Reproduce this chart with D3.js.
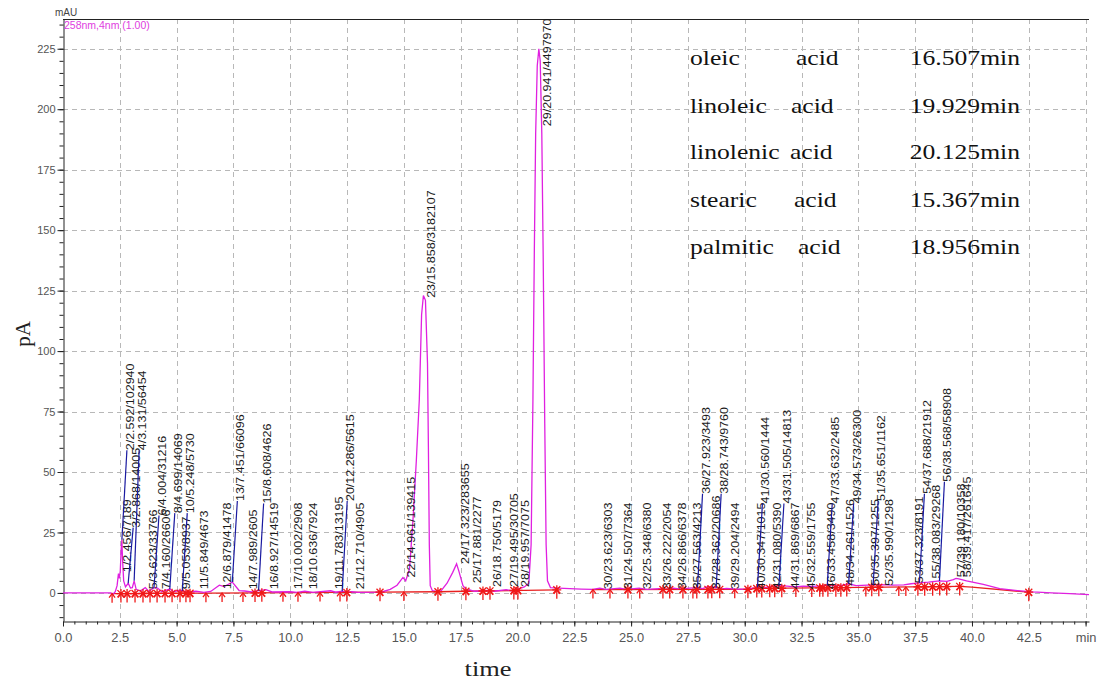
<!DOCTYPE html>
<html><head><meta charset="utf-8">
<script src="https://cdn.jsdelivr.net/npm/d3@7"></script>
<style>body{margin:0;background:#fff}svg{display:block}</style>
</head><body><svg id="c" width="1097" height="684"></svg>
<script>
// ---------------- DATA ----------------
const trace = [[0,0],[2.1,0],[2.2,-0.5],[2.3,0.5],[2.38,3],[2.44,8],[2.48,6],[2.52,9],[2.56,18],[2.59,22],[2.62,14],[2.67,5],[2.75,2.5],[2.87,4],[2.97,2],[3.05,2.2],[3.13,5],[3.22,1.5],[3.4,0.8],[3.62,2.2],[3.78,0.6],[4.0,2.2],[4.16,2.0],[4.35,0.5],[4.7,1.6],[4.88,0.5],[5.05,1.0],[5.25,0.9],[5.45,0.3],[5.85,0.7],[6.2,0.2],[6.5,0.6],[6.88,3.2],[7.1,2.6],[7.45,4.5],[7.75,1.0],[7.99,0.8],[8.3,0.4],[8.61,1.0],[8.93,1.4],[9.2,0.4],[10.0,0.5],[10.3,0.2],[10.64,0.7],[11.0,0.2],[11.78,0.9],[12.0,0.3],[12.29,0.7],[12.5,0.3],[12.71,0.5],[13.0,0.2],[13.8,0.3],[14.1,0.6],[14.4,1.5],[14.7,3.2],[14.96,6.4],[15.08,5.0],[15.25,10],[15.4,30],[15.55,55],[15.68,80],[15.78,115],[15.86,123],[15.95,121],[16.04,95],[16.08,60],[16.12,20],[16.16,3],[16.25,1.0],[16.45,0.6],[16.65,1.0],[16.9,4],[17.15,8.5],[17.32,12],[17.42,9],[17.6,3],[17.8,0.8],[17.88,1.3],[18.1,0.7],[18.75,1.1],[19.0,0.7],[19.5,1.4],[19.75,0.9],[19.96,1.4],[20.3,2.5],[20.5,4],[20.6,20],[20.68,80],[20.74,140],[20.8,190],[20.87,218],[20.94,225],[21.0,220],[21.07,190],[21.13,140],[21.2,70],[21.26,20],[21.32,5],[21.45,2.2],[21.8,2.0],[22.3,1.8],[22.8,1.6],[23.3,1.5],[23.62,2.0],[23.9,1.5],[24.51,2.0],[24.8,1.5],[25.35,2.0],[25.7,1.5],[26.22,1.8],[26.5,1.5],[26.87,2.0],[27.2,1.6],[27.56,2.0],[27.92,2.2],[28.15,1.8],[28.36,2.6],[28.74,2.2],[29.0,1.7],[29.2,1.9],[29.6,1.6],[30.1,1.6],[30.35,2.0],[30.56,2.3],[30.8,2.0],[31.08,2.6],[31.5,3.0],[31.87,2.8],[32.2,2.5],[32.56,2.8],[33.0,2.7],[33.46,3.0],[33.63,3.2],[34.0,2.9],[34.26,3.1],[34.57,3.8],[34.9,3.0],[35.4,3.2],[35.65,3.3],[35.99,3.4],[36.5,3.2],[37.0,3.3],[37.32,3.8],[37.69,4.2],[38.08,4.5],[38.57,5.0],[38.9,4.8],[39.18,5.5],[39.3,6.0],[39.42,5.8],[39.76,5.0],[40.5,3.5],[41.22,1.8],[42.0,1.0],[42.67,0.4],[43.5,0.0],[44.3,-0.3],[45.15,-0.7]];

const peakIds = d3.range(1, 59);
const peakTimes = ["2.456","2.592","2.868","3.131","3.623","4.004","4.160","4.699","5.053","5.248","5.849","6.879","7.451","7.989","8.608","8.927","10.002","10.636","11.783","12.286","12.710","14.961","15.858","17.323","17.881","18.750","19.495","19.957","20.941","23.623","24.507","25.348","26.222","26.866","27.563","27.923","28.362","28.743","29.204","30.347","30.560","31.080","31.505","31.869","32.559","33.458","33.632","34.261","34.573","35.397","35.651","35.990","37.323","37.688","38.083","38.568","39.180","39.417"];
const peakAreas = ["7189","102940","14005","56454","33766","31216","26606","14069","8937","5730","4673","41478","66096","2605","4626","14519","2908","7924","13195","5615","4905","139415","3182107","283655","2277","5179","30705","7075","4497970","6303","7364","6380","2054","6378","4213","3493","20686","9760","2494","1015","1444","5390","14813","6867","1755","3490","2485","1526","26300","1255","1162","1298","8191","21912","29268","58908","10358","261645"];
// level (pA) where each peak label starts
const labelLevels = [8.6,59,27,59,1.5,32,1.5,33,1.5,33,1.5,1.5,38,1.5,37,1.5,1.5,1.5,1.5,38,1.5,6.4,122,12,4,2.5,2.5,2.5,193,1.5,1.5,1.5,1.5,1.5,1.5,41,1.5,41,1.5,1.5,37,1.5,37,1.5,1.5,1.5,37,3,37,3,38,3,4,41,6,46,6.5,6.5];

// integration baselines [t0, v0, t1, v1]
const baseSegs = [[2.15,-0.3,13.95,0.3],[13.95,0.3,16.5,0.5],[16.5,0.5,17.75,0.7],[17.75,0.7,21.73,1.3],[23.32,1.4,30.14,1.5],[30.14,1.8,39.46,2.7],[39.46,2.7,40.0,2.4],[40.0,2.4,42.5,0.3]];
// peak start / end marks (min) and their kind (s = shared boundary star, a = arrow)
const marks = [2.16,2.55,2.82,3.17,3.52,3.83,4.14,4.49,4.80,5.15,5.41,5.59,6.29,7.00,7.92,8.45,8.75,9.68,10.34,11.31,12.19,12.49,13.95,15.00,16.50,17.73,18.48,18.79,19.84,20.02,21.73,23.32,24.07,24.86,25.38,26.40,26.70,27.28,27.72,27.89,28.38,28.55,28.90,29.56,30.14,30.53,30.75,31.10,31.32,31.63,32.25,32.95,33.30,33.44,33.66,34.01,34.23,34.49,35.33,35.59,35.90,36.78,37.09,37.62,37.92,38.27,38.58,38.89,39.46,42.50];
const markKinds = "asssssssssssaaassaaaassasssssssaasasssassssassssssaassssssassaasssssss".split("");

const xTickValues = d3.range(0, 45.01, 2.5);
const xTickLabels = ["0.0","2.5","5.0","7.5","10.0","12.5","15.0","17.5","20.0","22.5","25.0","27.5","30.0","32.5","35.0","37.5","40.0","42.5","min"];
const yTickValues = [0,25,50,75,100,125,150,175,200,225];
const yTickLabels = ["0","25","50","75","100","125","150","175","200","225"];

const legendNames = ["oleic","linoleic","linolenic","stearic","palmitic"];
const legendWord = "acid";
const legendTimes = ["16.507min","19.929min","20.125min","15.367min","18.956min"];

// ---------------- LAYOUT ----------------
const L = 63, R = 1089, T = 19, B = 621;
const svg = d3.select("#c");
const x = d3.scaleLinear().domain([0, 45.15]).range([L, R]);
const y = d3.scaleLinear().domain([-11.6, 237.3]).range([B, T]);

// grid
const grid = svg.append("g").attr("stroke", "#b8b8b8").attr("stroke-dasharray", "5,4").attr("stroke-width", 1);
xTickValues.filter(d => d > 0).forEach(d => grid.append("line").attr("x1", Math.round(x(d)) + .5).attr("x2", Math.round(x(d)) + .5).attr("y1", T).attr("y2", B));
yTickValues.forEach(d => grid.append("line").attr("x1", L).attr("x2", R).attr("y1", Math.round(y(d)) + .5).attr("y2", Math.round(y(d)) + .5));

// top frame
svg.append("line").attr("x1", L).attr("x2", R).attr("y1", T + .5).attr("y2", T + .5).attr("stroke", "#222");

// axes
const yAxis = d3.axisLeft(y).tickValues(yTickValues).tickSize(6).tickSizeOuter(0).tickPadding(2)
  .tickFormat((d, i) => yTickLabels[i]);
const gy = svg.append("g").attr("transform", `translate(${L + .5},0)`).call(yAxis);
const gyMinor = svg.append("g").attr("transform", `translate(${L + .5},0)`)
  .call(d3.axisLeft(y).tickValues(d3.range(-10, 236, 5)).tickSize(4).tickFormat(""));
gyMinor.select(".domain").remove();
const xAxis = d3.axisBottom(x).tickValues(xTickValues).tickSize(5).tickSizeOuter(0).tickPadding(6)
  .tickFormat((d, i) => xTickLabels[i]);
const gx = svg.append("g").attr("transform", `translate(0,${B + .5})`).call(xAxis);
const gxMinor = svg.append("g").attr("transform", `translate(0,${B + .5})`)
  .call(d3.axisBottom(x).tickValues(d3.range(0, 45.1, 0.5)).tickSize(3).tickFormat(""));
gxMinor.select(".domain").remove();
[gy, gx, gyMinor, gxMinor].forEach(g => {
  g.selectAll(".domain, line").attr("stroke", "#222");
  g.selectAll("text").attr("fill", "#555").style("font-family", "Arial, 'Liberation Sans', sans-serif").style("font-size", "11px");
});
gx.selectAll(".tick text").style("font-size", "11.5px").attr("transform", "scale(1.12,1.05)");

// header texts
svg.append("text").attr("x", 55).attr("y", 16).text("mAU")
  .style("font-family", "Arial, 'Liberation Sans', sans-serif").style("font-size", "10px").attr("fill", "#444");
svg.append("text").attr("x", 64).attr("y", 29).text("258nm,4nm (1.00)")
  .style("font-family", "Arial, 'Liberation Sans', sans-serif").style("font-size", "10.5px").attr("fill", "#e040e0");

// axis titles
svg.append("text").attr("transform", "translate(30,334) rotate(-90)").attr("text-anchor", "middle")
  .style("font-family", "'Liberation Serif', 'Times New Roman', serif").style("font-size", "21px").attr("fill", "#222").text("pA");
svg.append("text").attr("transform", "translate(488,676) scale(1.2,1)").attr("text-anchor", "middle")
  .style("font-family", "'Liberation Serif', 'Times New Roman', serif").style("font-size", "22px").attr("fill", "#222").text("time");

// integration baselines
const gb = svg.append("g").attr("stroke", "#e82020").attr("stroke-width", 1.3);
baseSegs.forEach(s => gb.append("line").attr("x1", x(s[0])).attr("y1", y(s[1])).attr("x2", x(s[2])).attr("y2", y(s[3])));

// trace
const line = d3.line().x(d => x(d[0])).y(d => y(d[1]));
svg.append("path").datum(trace).attr("d", line).attr("fill", "none").attr("stroke", "#e020e0").attr("stroke-width", 1.3);

function baseAt(t) {
  for (const s of baseSegs) if (t >= s[0] - 0.01 && t <= s[2] + 0.01) return s[1] + (s[3] - s[1]) * (t - s[0]) / (s[2] - s[0]);
  return 0.5;
}
function traceAt(t) {
  let best = trace[0];
  for (const p of trace) if (Math.abs(p[0] - t) < Math.abs(best[0] - t)) best = p;
  return best[1];
}

// marks
const gm = svg.append("g").attr("stroke", "#f01818").attr("stroke-width", 1.3).attr("fill", "none");
marks.forEach((t, i) => {
  const mx = x(t), my = y(baseAt(t));
  // arrow pointing up to the baseline
  gm.append("line").attr("x1", mx).attr("x2", mx).attr("y1", my + 9).attr("y2", my);
  gm.append("path").attr("d", `M${mx - 3},${my + 4}L${mx},${my}L${mx + 3},${my + 4}`);
  if (markKinds[i] === "s") {
    gm.append("path").attr("d", `M${mx - 4.5},${my}H${mx + 4.5}M${mx - 3.5},${my - 3.5}L${mx + 3.5},${my + 3.5}M${mx - 3.5},${my + 3.5}L${mx + 3.5},${my - 3.5}M${mx},${my - 4.5}V${my}`);
  }
});

// peak labels with leaders
const gl = svg.append("g");
peakIds.forEach((id, i) => {
  const t = +peakTimes[i];
  const px = x(t);
  const pv = traceAt(t);
  const lv = labelLevels[i];
  const ly = y(lv);
  if (lv > pv + 4) {
    gl.append("line").attr("x1", px).attr("y1", y(pv)).attr("x2", px + 5).attr("y2", ly)
      .attr("stroke", "#1a1aa0").attr("stroke-width", 1.2);
  }
  gl.append("text").attr("transform", `translate(${px + 12},${ly}) rotate(-90) scale(1.25,1)`)
    .style("font-family", "Arial, 'Liberation Sans', sans-serif").style("font-size", "10px").attr("fill", "#1a1a1a")
    .text(`${id}/${peakTimes[i]}/${peakAreas[i]}`);
});

// legend table
const rowsY = [65, 113, 159, 207, 254];
const acidX = [796, 791, 790, 794, 798];
const gt = svg.append("g").style("font-family", "'Liberation Serif', 'Times New Roman', serif").style("font-size", "21px").attr("fill", "#111");
legendNames.forEach((n, i) => {
  gt.append("text").attr("transform", `translate(690,${rowsY[i]}) scale(1.22,1)`).text(n);
  gt.append("text").attr("transform", `translate(${acidX[i]},${rowsY[i]}) scale(1.22,1)`).text(legendWord);
  gt.append("text").attr("transform", `translate(1020,${rowsY[i]}) scale(1.22,1)`).attr("text-anchor", "end").text(legendTimes[i]);
});
</script></body></html>
